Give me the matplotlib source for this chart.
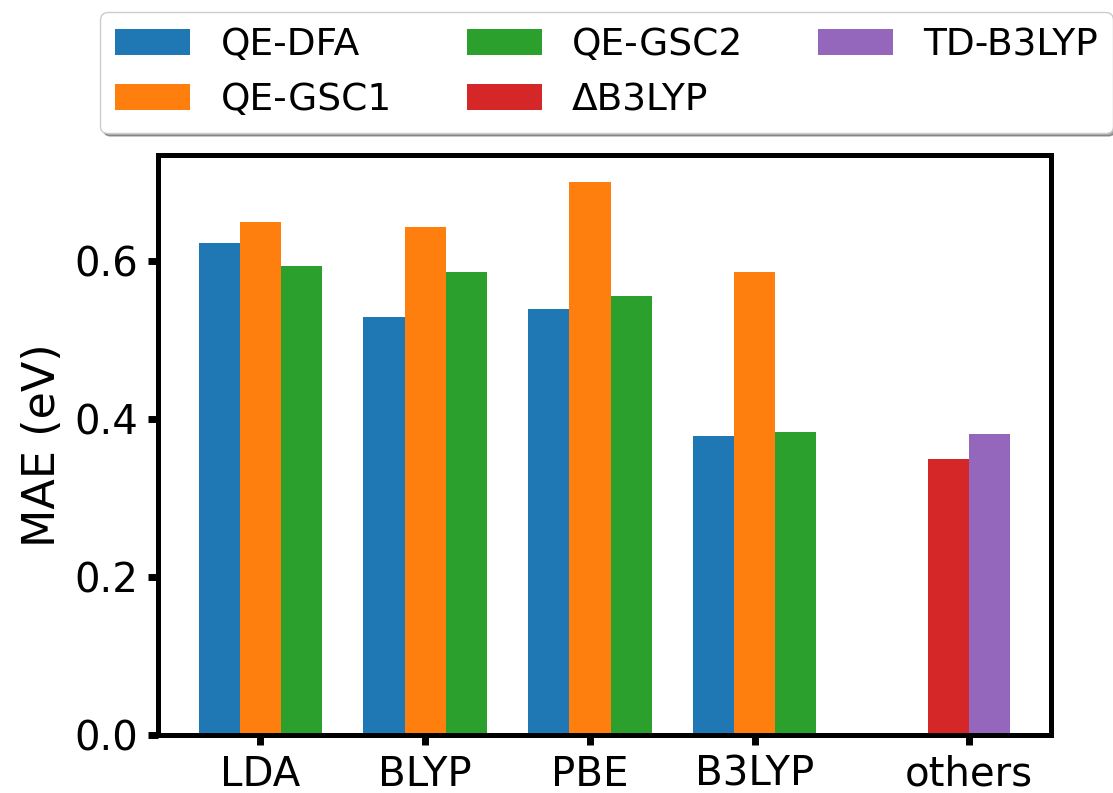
import numpy as np
import matplotlib
matplotlib.use("Agg")
import matplotlib.pyplot as plt

functionals = ["LDA", "BLYP", "PBE", "B3LYP"]
qe_dfa = [0.623, 0.530, 0.539, 0.379]
qe_gsc1 = [0.650, 0.643, 0.700, 0.587]
qe_gsc2 = [0.594, 0.586, 0.556, 0.384]
delta_b3lyp = 0.350
td_b3lyp = 0.381
tick_labels = functionals + ["others"]

x = np.arange(len(functionals))
x_others = 4.3
w = 0.25

fig = plt.figure(figsize=(11.13, 7.93), dpi=100)
ax = fig.add_axes([0.142, 0.073, 0.802, 0.732])

b1 = ax.bar(x - w, qe_dfa, w, color="tab:blue", label="QE-DFA")
b2 = ax.bar(x, qe_gsc1, w, color="tab:orange", label="QE-GSC1")
b3 = ax.bar(x + w, qe_gsc2, w, color="tab:green", label="QE-GSC2")
b4 = ax.bar(x_others - w / 2, delta_b3lyp, w, color="tab:red", label="ΔB3LYP")
b5 = ax.bar(x_others + w / 2, td_b3lyp, w, color="tab:purple", label="TD-B3LYP")

ax.set_xticks(list(x) + [x_others])
ax.set_xticklabels(tick_labels)
ax.set_yticks([0.0, 0.2, 0.4, 0.6])
ax.set_ylabel("MAE (eV)", fontsize=32, labelpad=8)
ax.tick_params(labelsize=29, width=5, length=7, pad=7)
for s in ax.spines.values():
    s.set_linewidth(3.6)

fig.legend(handles=[b1, b2, b3, b4, b5], loc="upper center",
           bbox_to_anchor=(0.545, 1.008), ncol=3, fontsize=27,
           shadow=True)

plt.savefig("out.png", dpi=100)
